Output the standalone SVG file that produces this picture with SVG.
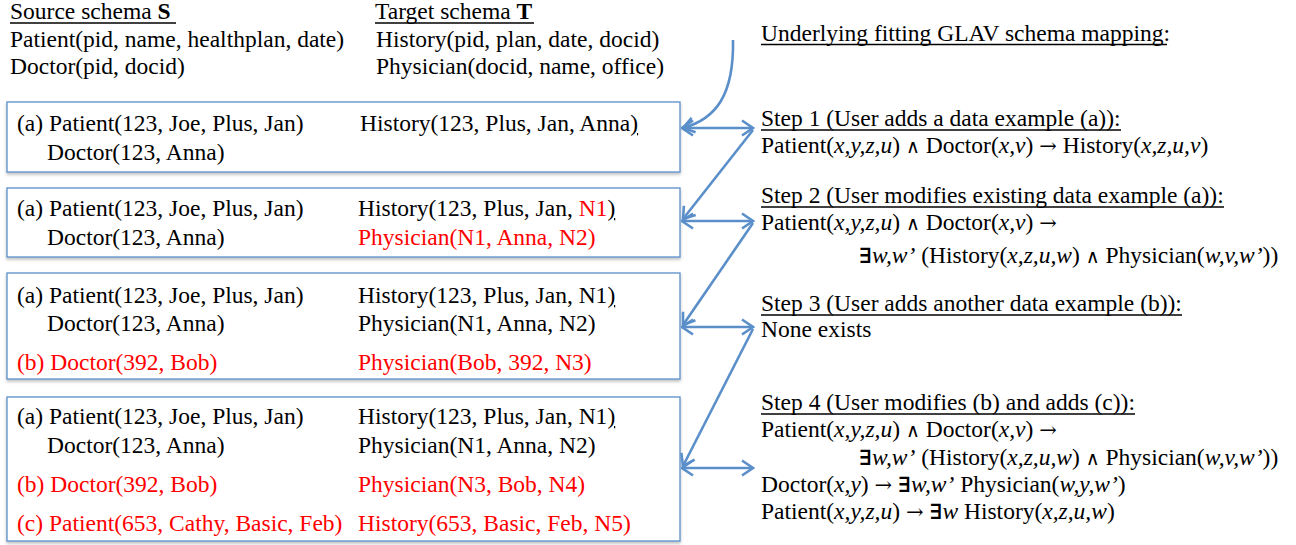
<svg xmlns="http://www.w3.org/2000/svg" width="1296" height="545" viewBox="0 0 1296 545">
<style>
text{font-family:"Liberation Serif","Times New Roman","DejaVu Serif",serif;font-size:23.5px;fill:#000}
.r{fill:#ff0000}
.u{text-decoration:underline}
.i{font-style:italic}
.b{font-weight:bold}
.sym{font-family:"DejaVu Serif","Liberation Serif",serif;font-size:19px}
.arr{font-family:"DejaVu Serif","Liberation Serif",serif;font-size:21px}
.ex{font-family:"DejaVu Serif","Liberation Serif",serif;font-weight:bold;font-size:21px}
.ul{stroke:#000;stroke-width:1.3}
.box{fill:#fff;stroke:#5b8fca;stroke-width:1.3}
.con{fill:none;stroke:#5b8fca;stroke-width:2.6}
</style>
<defs>
<filter id="sh" x="-5%" y="-10%" width="110%" height="130%">
<feDropShadow dx="0" dy="2" stdDeviation="1.5" flood-color="#000" flood-opacity="0.25"/>
</filter>
<marker id="ah" viewBox="0 0 14 18" refX="12.5" refY="9" markerWidth="14" markerHeight="18" orient="auto-start-reverse" markerUnits="userSpaceOnUse">
<path d="M1.5,1.5 L12.5,9 L1.5,16.5" fill="none" stroke="#5b8fca" stroke-width="2.6"/>
</marker>
</defs>

<g id="schemas">
<text x="10" y="19">Source schema <tspan class="b">S</tspan></text>
<line class="ul" x1="10" y1="23" x2="176" y2="23"/>
<text x="10" y="46.5">Patient(pid, name, healthplan, date)</text>
<text x="10" y="74">Doctor(pid, docid)</text>
<text x="375" y="19">Target schema <tspan class="b">T</tspan></text>
<line class="ul" x1="375" y1="23" x2="534" y2="23"/>
<text x="376" y="46.5">History(pid, plan, date, docid)</text>
<text x="376" y="74">Physician(docid, name, office)</text>
</g>

<g id="box1">
<rect class="box" x="7" y="102" width="673" height="70" filter="url(#sh)"/>
<text x="17" y="131">(a) Patient(123, Joe, Plus, Jan)</text>
<text x="47" y="160">Doctor(123, Anna)</text>
<text x="360" y="131">History(123, Plus, Jan, Anna<tspan class="u">)</tspan></text>
</g>

<g id="box2">
<rect class="box" x="7" y="188" width="673" height="69" filter="url(#sh)"/>
<text x="17" y="216">(a) Patient(123, Joe, Plus, Jan)</text>
<text x="47" y="245">Doctor(123, Anna)</text>
<text x="358" y="216">History(123, Plus, Jan, <tspan class="r">N1</tspan><tspan class="u">)</tspan></text>
<text x="358" y="245" class="r">Physician(N1, Anna, N2)</text>
</g>

<g id="box3">
<rect class="box" x="7" y="273" width="673" height="106" filter="url(#sh)"/>
<text x="17" y="303">(a) Patient(123, Joe, Plus, Jan)</text>
<text x="47" y="331">Doctor(123, Anna)</text>
<text x="17" y="370" class="r">(b) Doctor(392, Bob)</text>
<text x="358" y="303">History(123, Plus, Jan, N1<tspan class="u">)</tspan></text>
<text x="358" y="331">Physician(N1, Anna, N2)</text>
<text x="358" y="370" class="r">Physician(Bob, 392, N3)</text>
</g>

<g id="box4">
<rect class="box" x="7" y="397" width="673" height="144" filter="url(#sh)"/>
<text x="17" y="424">(a) Patient(123, Joe, Plus, Jan)</text>
<text x="47" y="453">Doctor(123, Anna)</text>
<text x="17" y="492" class="r">(b) Doctor(392, Bob)</text>
<text x="17" y="531" class="r">(c) Patient(653, Cathy, Basic, Feb)</text>
<text x="358" y="424">History(123, Plus, Jan, N1<tspan class="u">)</tspan></text>
<text x="358" y="453">Physician(N1, Anna, N2)</text>
<text x="358" y="492" class="r">Physician(N3, Bob, N4)</text>
<text x="358" y="531" class="r">History(653, Basic, Feb, N5)</text>
</g>

<g id="mapping">
<text x="761" y="40.5">Underlying fitting GLAV schema mapping:</text>
<line class="ul" x1="761" y1="44.5" x2="1167" y2="44.5"/>
</g>

<g id="step1">
<text x="761" y="126">Step 1 (User adds a data example (a)):</text>
<line class="ul" x1="761" y1="130" x2="1121" y2="130"/>
<text x="761" y="153">Patient(<tspan class="i">x,y,z,u</tspan>) <tspan class="sym">∧</tspan> Doctor(<tspan class="i">x,v</tspan>) <tspan class="arr">→</tspan> History(<tspan class="i">x,z,u,v</tspan>)</text>
</g>

<g id="step2">
<text x="761" y="203">Step 2 (User modifies existing data example (a)):</text>
<line class="ul" x1="761" y1="207" x2="1224" y2="207"/>
<text x="761" y="230">Patient(<tspan class="i">x,y,z,u</tspan>) <tspan class="sym">∧</tspan> Doctor(<tspan class="i">x,v</tspan>) <tspan class="arr">→</tspan></text>
<text x="859" y="263"><tspan class="ex">∃</tspan><tspan class="i">w,w’</tspan> (History(<tspan class="i">x,z,u,w</tspan>) <tspan class="sym">∧</tspan> Physician(<tspan class="i">w,v,w’</tspan>))</text>
</g>

<g id="step3">
<text x="761" y="311">Step 3 (User adds another data example (b)):</text>
<line class="ul" x1="761" y1="315" x2="1182" y2="315"/>
<text x="761" y="337">None exists</text>
</g>

<g id="step4">
<text x="761" y="410">Step 4 (User modifies (b) and adds (c)):</text>
<line class="ul" x1="761" y1="414" x2="1135" y2="414"/>
<text x="761" y="437">Patient(<tspan class="i">x,y,z,u</tspan>) <tspan class="sym">∧</tspan> Doctor(<tspan class="i">x,v</tspan>) <tspan class="arr">→</tspan></text>
<text x="859" y="465"><tspan class="ex">∃</tspan><tspan class="i">w,w’</tspan> (History(<tspan class="i">x,z,u,w</tspan>) <tspan class="sym">∧</tspan> Physician(<tspan class="i">w,v,w’</tspan>))</text>
<text x="761" y="492">Doctor(<tspan class="i">x,y</tspan>) <tspan class="arr">→</tspan> <tspan class="ex">∃</tspan><tspan class="i">w,w’</tspan> Physician(<tspan class="i">w,y,w’</tspan>)</text>
<text x="761" y="519">Patient(<tspan class="i">x,y,z,u</tspan>) <tspan class="arr">→</tspan> <tspan class="ex">∃</tspan><tspan class="i">w</tspan> History(<tspan class="i">x,z,u,w</tspan>)</text>
</g>

<g id="connectors">
<path class="con" d="M733,40 C734,95 716,119 683,128" marker-end="url(#ah)"/>
<line class="con" x1="682" y1="128" x2="753" y2="128" marker-start="url(#ah)" marker-end="url(#ah)"/>
<line class="con" x1="753" y1="130" x2="683" y2="219" marker-end="url(#ah)"/>
<line class="con" x1="682" y1="221" x2="753" y2="221" marker-start="url(#ah)" marker-end="url(#ah)"/>
<line class="con" x1="753" y1="223" x2="683" y2="325" marker-end="url(#ah)"/>
<line class="con" x1="682" y1="327" x2="753" y2="327" marker-start="url(#ah)" marker-end="url(#ah)"/>
<line class="con" x1="753" y1="329" x2="683" y2="466" marker-end="url(#ah)"/>
<line class="con" x1="682" y1="468" x2="753" y2="468" marker-start="url(#ah)" marker-end="url(#ah)"/>
</g>
</svg>
